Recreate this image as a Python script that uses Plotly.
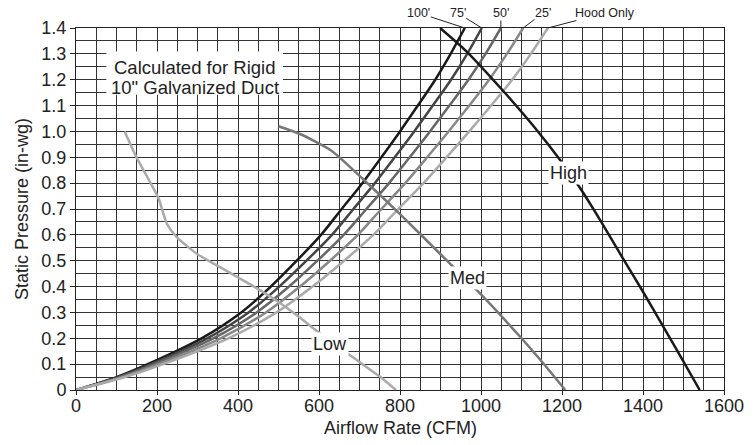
import plotly.graph_objects as go

# ---- data ----
# System curves (duct length): static pressure levels and the airflow at each level
system_pressure = [0, 0.05, 0.1, 0.2, 0.3, 0.4, 0.5, 0.6, 0.7, 0.8, 0.9, 1.0, 1.1, 1.2, 1.3, 1.4]
duct_100ft_cfm = [0, 100, 177, 310, 408, 481, 545, 605, 656, 707, 754, 800, 844, 887, 925, 960]
duct_75ft_cfm = [0, 104, 185, 324, 426, 502, 569, 632, 685, 738, 787, 835, 881, 926, 966, 1002]
duct_50ft_cfm = [0, 109, 193, 339, 446, 526, 596, 661, 717, 773, 824, 874, 922, 969, 1011, 1049]
duct_25ft_cfm = [0, 115, 204, 357, 469, 553, 627, 696, 754, 813, 867, 920, 971, 1020, 1064, 1104]
hood_only_cfm = [0, 121, 215, 376, 495, 584, 662, 734, 796, 858, 915, 971, 1025, 1077, 1123, 1165]
system_names = ["100'", "75'", "50'", "25'", "Hood Only"]

# Fan curves
low_cfm = [120, 150, 203, 225, 250, 300, 350, 400, 450, 500, 550, 600, 650, 700, 750, 790]
low_p = [1.0, 0.898, 0.744, 0.641, 0.589, 0.525, 0.48, 0.435, 0.39, 0.34, 0.283, 0.222, 0.165, 0.108, 0.052, 0.0]
med_cfm = [500, 553, 630, 709, 800, 900, 1000, 1100, 1150, 1208]
med_p = [1.02, 0.99, 0.926, 0.815, 0.68, 0.525, 0.37, 0.2, 0.11, 0.0]
high_cfm = [899, 964, 1050, 1130, 1200, 1245, 1295, 1350, 1400, 1450, 1500, 1540]
high_p = [1.4, 1.31, 1.165, 1.02, 0.88, 0.78, 0.655, 0.51, 0.38, 0.245, 0.11, 0.0]
fan_names = ["Low", "Med", "High"]

x_tick_vals = [0, 200, 400, 600, 800, 1000, 1200, 1400, 1600]
x_tick_labels = ["0", "200", "400", "600", "800", "1000", "1200", "1400", "1600"]
y_tick_vals = [0, 0.1, 0.2, 0.3, 0.4, 0.5, 0.6, 0.7, 0.8, 0.9, 1.0, 1.1, 1.2, 1.3, 1.4]
y_tick_labels = ["0", "0.1", "0.2", "0.3", "0.4", "0.5", "0.6", "0.7", "0.8", "0.9",
                 "1.0", "1.1", "1.2", "1.3", "1.4"]
note_lines = ["Calculated for Rigid", "10\" Galvanized Duct"]
x_title = "Airflow Rate (CFM)"
y_title = "Static Pressure (in-wg)"

FONT = "Liberation Sans, Arial, sans-serif"
TXT = "#222222"

fig = go.Figure()

system_series = [duct_100ft_cfm, duct_75ft_cfm, duct_50ft_cfm, duct_25ft_cfm, hood_only_cfm]
system_colors = ["#1a1a1a", "#444444", "#666666", "#888888", "#aaaaaa"]
for name, cfm, col in zip(system_names, system_series, system_colors):
    fig.add_trace(go.Scatter(x=cfm, y=system_pressure, mode="lines", name=name,
                             line=dict(color=col, width=2.5, shape="spline", smoothing=0.8),
                             showlegend=False))

fan_series = [(low_cfm, low_p, "#aaaaaa"), (med_cfm, med_p, "#777777"), (high_cfm, high_p, "#1a1a1a")]
for name, (cfm, p, col) in zip(fan_names, fan_series):
    fig.add_trace(go.Scatter(x=cfm, y=p, mode="lines", name=name,
                             line=dict(color=col, width=2.5, shape="spline", smoothing=0.6),
                             showlegend=False))

annotations = []
# fan curve labels (white boxes sitting on the curves)
fan_label_pos = {"Low": (627, 0.179), "Med": (967, 0.434), "High": (1216, 0.84)}
for name in fan_names:
    x, y = fan_label_pos[name]
    annotations.append(dict(x=x, y=y, xref="x", yref="y", text=name, showarrow=False,
                            xanchor="center", yanchor="middle",
                            font=dict(family=FONT, size=18, color=TXT),
                            bgcolor="white", borderpad=1))

# system curve labels above the plot with leader lines to the top end of each curve
leader_offsets = [(-46, -15), (-24, -15), (0, -15), (20, -15), (57, -15)]
for name, cfm, (ax, ay) in zip(system_names, system_series, leader_offsets):
    annotations.append(dict(x=cfm[-1], y=system_pressure[-1], xref="x", yref="y",
                            text=name, showarrow=True, arrowhead=0, arrowwidth=1,
                            arrowcolor=TXT, ax=ax, ay=ay, borderpad=0,
                            font=dict(family=FONT, size=12.5, color=TXT)))

# note box: white rectangle + two text lines
note_y = [1.248, 1.17]
for line, yy in zip(note_lines, note_y):
    annotations.append(dict(x=293, y=yy, xref="x", yref="y", text=line,
                            xanchor="center", yanchor="middle",
                            showarrow=False, font=dict(family=FONT, size=18.5, color=TXT)))

# x axis title placed as an annotation below the tick labels
annotations.append(dict(x=0.5, y=-0.104, xref="paper", yref="paper", text=x_title,
                        xanchor="center", yanchor="middle", showarrow=False,
                        font=dict(family=FONT, size=18, color=TXT)))

fig.add_shape(type="rect", xref="x", yref="y", x0=75, x1=511, y0=1.142, y1=1.309,
              fillcolor="white", line=dict(width=0), layer="above")

grid_col = "#333333"
axis_common = dict(showgrid=True, gridcolor=grid_col, gridwidth=1,
                   ticks="outside", tickcolor=TXT, automargin=False,
                   showline=True, linecolor=TXT, linewidth=1, mirror=True, zeroline=False,
                   tickfont=dict(family=FONT, size=18, color=TXT))

fig.update_layout(
    width=755, height=445,
    margin=dict(l=76, r=31, t=28, b=55),
    paper_bgcolor="white", plot_bgcolor="white",
    font=dict(family=FONT, size=18, color=TXT),
    annotations=annotations,
    hovermode=False,
    xaxis=dict(range=[0, 1600], tickmode="array", tickvals=x_tick_vals, ticktext=x_tick_labels,
               minor=dict(dtick=50, tick0=0, showgrid=True, gridcolor=grid_col, gridwidth=1),
               ticklen=4, ticklabelstandoff=-5,
               **axis_common),
    yaxis=dict(range=[0, 1.4], tickmode="array", tickvals=y_tick_vals, ticktext=y_tick_labels,
               minor=dict(dtick=0.05, tick0=0, showgrid=True, gridcolor=grid_col, gridwidth=1),
               ticklen=5,
               title=dict(text=y_title, standoff=8,
                          font=dict(family=FONT, size=18, color=TXT)),
               **axis_common),
)

# remove the default 8px page margin so the figure fills the window exactly
fig.write_html("out.html",
               config={"displayModeBar": False},
               post_script="document.body.style.margin='0';document.body.style.overflow='hidden';")
